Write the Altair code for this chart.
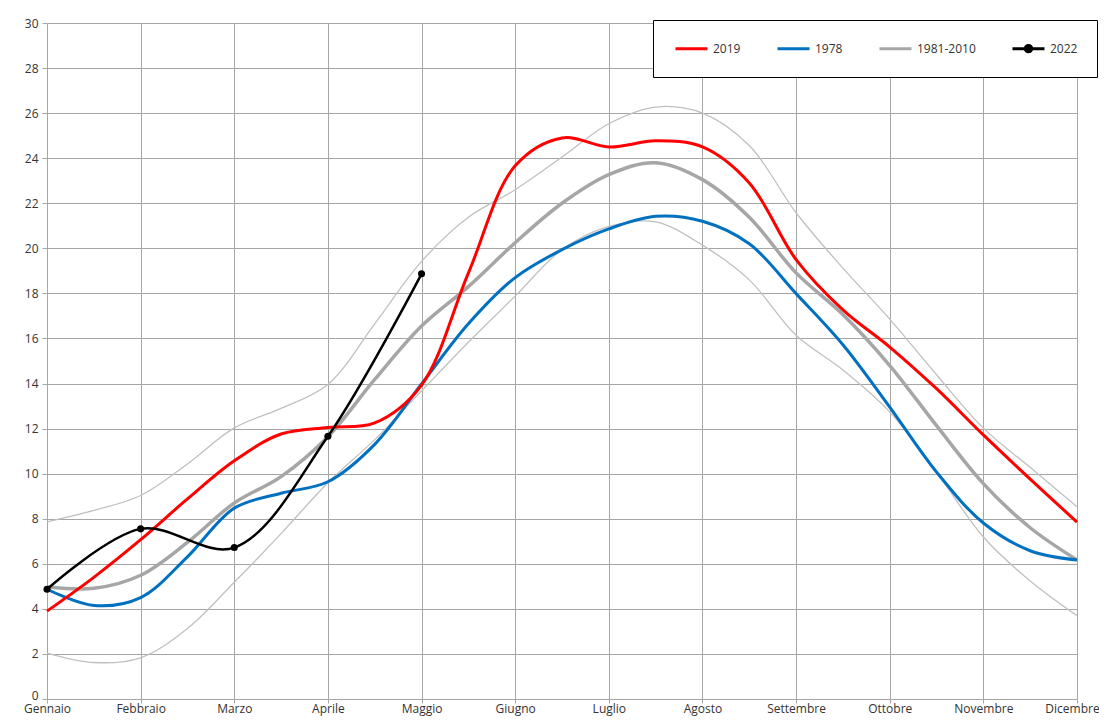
import json
import altair as alt
import pandas as pd

MESI = ["Gennaio", "Febbraio", "Marzo", "Aprile", "Maggio", "Giugno",
        "Luglio", "Agosto", "Settembre", "Ottobre", "Novembre", "Dicembre"]

# half-month positions (1 = Gennaio ... 12 = Dicembre)
X_HALF = [1, 1.5, 2, 2.5, 3, 3.5, 4, 4.5, 5, 5.5, 6, 6.5, 7, 7.5, 8, 8.5,
          9, 9.5, 10, 10.5, 11, 11.5, 12]

T_2019 = [3.9, 5.4, 7.07, 8.88, 10.57, 11.76, 12.05, 12.25, 13.93, 18.9, 23.66,
          24.9, 24.5, 24.77, 24.5, 22.9, 19.5, 17.27, 15.62, 13.77, 11.72, 9.76, 7.85]
T_1978 = [4.87, 4.15, 4.5, 6.31, 8.47, 9.13, 9.64, 11.3, 13.98, 16.65, 18.7,
          19.94, 20.86, 21.42, 21.2, 20.2, 17.99, 15.72, 12.95, 10.07, 7.81, 6.58, 6.17]
T_NORM = [4.98, 4.91, 5.49, 6.95, 8.7, 9.87, 11.64, 14.18, 16.55, 18.3, 20.25,
          22.0, 23.27, 23.8, 23.05, 21.38, 18.91, 17.06, 14.8, 12.13, 9.56, 7.6, 6.17]
T_MAX = [7.86, 8.37, 9.03, 10.43, 12.03, 12.9, 13.96, 16.65, 19.42, 21.38, 22.6,
         24.05, 25.53, 26.27, 26.0, 24.56, 21.58, 19.12, 16.86, 14.39, 12.02, 10.28, 8.53]
T_MIN = [2.04, 1.62, 1.83, 3.13, 5.18, 7.34, 9.6, 11.51, 13.67, 15.83, 17.88,
         19.94, 20.97, 21.17, 20.14, 18.6, 16.14, 14.6, 12.74, 10.07, 7.19, 5.24, 3.7]

X_2022 = [1, 2, 3, 4, 5]
T_2022 = [4.87, 7.55, 6.72, 11.66, 18.87]

SERIE = ["2019", "1978", "1981-2010", "2022"]
COLORI = ["#FF0000", "#0070C0", "#A6A6A6", "#000000"]

rows = []
for name, vals in [("2019", T_2019), ("1978", T_1978), ("1981-2010", T_NORM),
                   ("max", T_MAX), ("min", T_MIN)]:
    for x, v in zip(X_HALF, vals):
        rows.append({"x": x, "t": v, "serie": name})
for x, v in zip(X_2022, T_2022):
    rows.append({"x": x, "t": v, "serie": "2022"})
df = pd.DataFrame(rows)

grid_c = "#A6A6A6"
font = "Open Sans"
lab_c = "#333333"

x_enc = alt.X("x:Q",
              scale=alt.Scale(domain=[1, 12], nice=False, zero=False),
              axis=alt.Axis(values=list(range(1, 13)),
                            labelExpr=json.dumps(MESI) + "[datum.value - 1]",
                            title=None, grid=True, gridColor=grid_c, domain=False,
                            tickColor=grid_c, tickSize=4, labelPadding=0,
                            labelOffset={"condition": {"test": "datum.value == 12", "value": -5},
                                         "value": 0},
                            labelFlush=False, labelOverlap=False))
y_enc = alt.Y("t:Q",
              scale=alt.Scale(domain=[0, 30], nice=False, zero=True),
              axis=alt.Axis(values=list(range(0, 31, 2)), title=None, grid=True,
                            gridColor=grid_c, domain=False, tickColor=grid_c,
                            tickSize=5, labelPadding=4,
                            labelOffset={"condition": {"test": "datum.value == 0", "value": -4},
                                         "value": 0}))

base = alt.Chart(df)

def line(name, color, width):
    return base.transform_filter(alt.datum.serie == name).mark_line(
        interpolate="catmull-rom", color=color, strokeWidth=width
    ).encode(x=x_enc, y=y_enc)

layers = [
    line("max", "#C0C0C0", 1.3),
    line("min", "#C0C0C0", 1.3),
    line("1981-2010", "#A6A6A6", 3.5),
    line("1978", "#0070C0", 3),
    line("2019", "#FF0000", 3),
    line("2022", "#000000", 2.5),
    base.transform_filter(alt.datum.serie == "2022").mark_circle(
        size=50, color="#000000", opacity=1).encode(x=x_enc, y=y_enc),
]

# legend symbols: a horizontal stroke, and for 2022 a stroke with a dot
LINE_PATH = "M-0.75,0L3.25,0M1.25,-0.4M1.25,0.4"
DOT_PATH = ("M-0.75,0L3.25,0M1.65,0A0.4,0.4,0,1,1,0.85,0A0.4,0.4,0,1,1,1.65,0"
            "M1.4,0A0.15,0.15,0,1,1,1.1,0A0.15,0.15,0,1,1,1.4,0")

leg = alt.Legend(title=None, orient="none", legendX=606, legendY=-3,
                 direction="horizontal", fillColor="white", strokeColor="black",
                 padding=19, symbolSize=256, symbolStrokeWidth=3,
                 labelOffset=22, columnPadding=30, labelFontSize=12,
                 labelFont=font, labelColor=lab_c, symbolOpacity=1)

legend_layer = base.transform_filter("datum.x < 0").mark_point(
    opacity=1, filled=False).encode(
    x=x_enc, y=y_enc,
    color=alt.Color("serie:N", scale=alt.Scale(domain=SERIE, range=COLORI), legend=leg),
    shape=alt.Shape("serie:N", scale=alt.Scale(domain=SERIE,
                    range=[LINE_PATH, LINE_PATH, LINE_PATH, DOT_PATH]), legend=leg),
)
layers.append(legend_layer)

chart = alt.layer(*layers).properties(
    width=1030, height=676,
    autosize=alt.AutoSizeParams(type="none"),
    padding={"left": 39, "top": 15, "right": 22, "bottom": 20},
).configure_view(stroke=None).configure_axis(
    labelFont=font, labelFontSize=12, labelColor=lab_c
)

chart.save("out.html", embed_options={"renderer": "svg", "actions": False})
